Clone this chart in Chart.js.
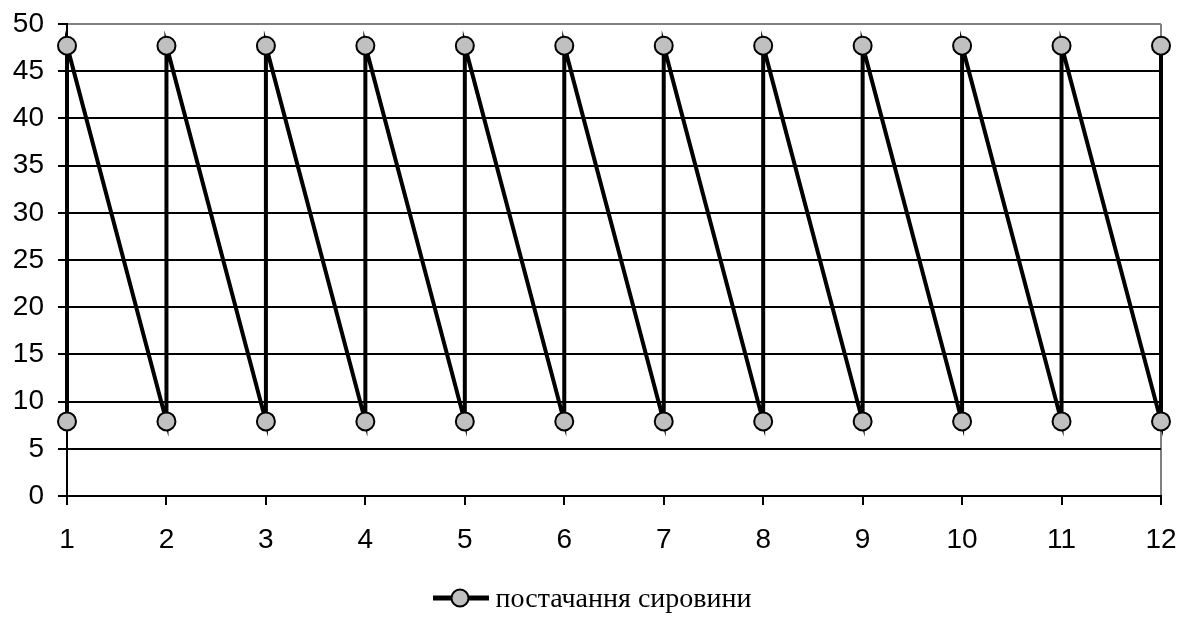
<!DOCTYPE html>
<html>
<head>
<meta charset="utf-8">
<script src="https://cdn.jsdelivr.net/npm/chart.js@4.4.1/dist/chart.umd.min.js"></script>
<style>
  html, body { margin: 0; padding: 0; background: #fff; }
  #wrap { position: relative; width: 1184px; height: 623px; }
  #legend { position: absolute; left: 0; top: 582px; width: 1184px; text-align: center;
            font-family: "Liberation Serif", "Times New Roman", serif; font-size: 28px; color: #000; white-space: nowrap; }
  #legend svg { vertical-align: middle; margin-right: 7px; position: relative; top: -3px; }
</style>
</head>
<body>
<div id="wrap">
  <canvas id="chart" width="1184" height="623"></canvas>
  <div id="legend"><svg width="56" height="22"><line x1="0" y1="11" x2="56" y2="11" stroke="#000" stroke-width="5"/><circle cx="27" cy="11" r="8.5" fill="#c0c0c0" stroke="#000" stroke-width="2"/></svg><span id="legendText"></span></div>
</div>
<script>
// Supply schedule: stock at each month, before and after delivery
const months = [1, 2, 3, 4, 5, 6, 7, 8, 9, 10, 11, 12];
const lowLevel  = [7.9, 7.9, 7.9, 7.9, 7.9, 7.9, 7.9, 7.9, 7.9, 7.9, 7.9, 7.9];
const highLevel = [47.7, 47.7, 47.7, 47.7, 47.7, 47.7, 47.7, 47.7, 47.7, 47.7, 47.7, 47.7];
const yTicks = [0, 5, 10, 15, 20, 25, 30, 35, 40, 45, 50];
const seriesName = 'постачання сировини';

document.getElementById('legendText').textContent = seriesName;

// each month: low point then high point (vertical jump), then a slope down to next month's low
const points = [];
months.forEach((m, i) => {
  points.push({ x: m, y: lowLevel[i] });
  points.push({ x: m, y: highLevel[i] });
});

const font = { family: 'Liberation Sans, Arial, sans-serif', size: 28 };

new Chart(document.getElementById('chart'), {
  type: 'scatter',
  data: {
    datasets: [{
      label: seriesName,
      data: points,
      showLine: true,
      borderColor: '#000',
      borderWidth: 4,
      pointRadius: 9,
      pointHoverRadius: 9,
      pointBorderWidth: 2,
      pointBorderColor: '#000',
      pointBackgroundColor: '#c0c0c0',
      tension: 0,
      clip: false
    }]
  },
  options: {
    responsive: false,
    animation: false,
    events: [],
    layout: { padding: { top: 24, right: 23, left: 0, bottom: 0 } },
    plugins: { legend: { display: false }, tooltip: { enabled: false } },
    scales: {
      x: {
        type: 'linear',
        min: 1, max: 12,
        afterBuildTicks: s => { s.ticks = months.map(v => ({ value: v })); },
        afterFit: s => { s.height = 623 - 496; s.paddingLeft = 0; s.paddingRight = 0; },
        border: { display: true, color: '#000', width: 2 },
        grid: {
          drawOnChartArea: true,
          color: c => (c.tick && c.tick.value === 12) ? '#808080' : 'rgba(0,0,0,0)',
          lineWidth: 2,
          tickColor: '#000',
          tickLength: 9
        },
        ticks: { color: '#000', font: font, padding: 18, maxRotation: 0 }
      },
      y: {
        min: 0, max: 50,
        afterBuildTicks: s => { s.ticks = yTicks.map(v => ({ value: v })); },
        afterFit: s => { s.width = 67; s.paddingTop = 0; s.paddingBottom = 0; },
        border: { display: true, color: '#000', width: 2 },
        grid: {
          color: c => (c.tick && c.tick.value === 50) ? '#808080' : '#000',
          lineWidth: 2,
          tickColor: '#000',
          tickLength: 9
        },
        ticks: { color: '#000', font: font, padding: 14 }
      }
    }
  }
});
</script>
</body>
</html>
